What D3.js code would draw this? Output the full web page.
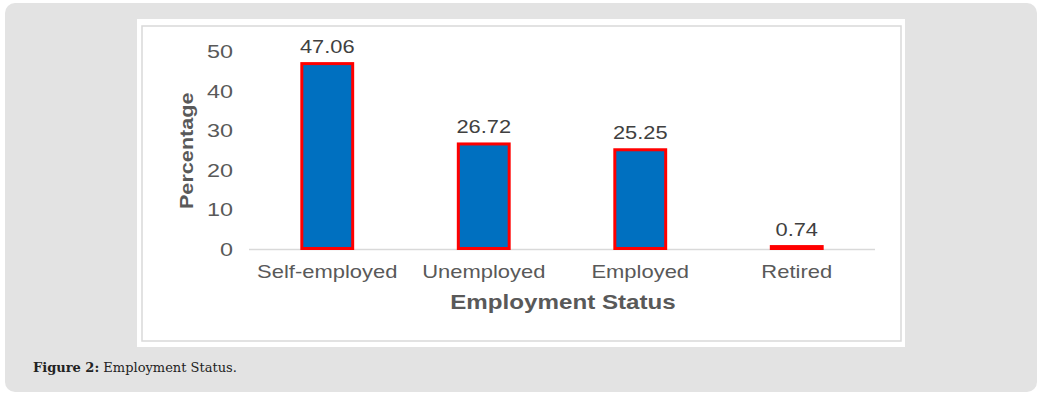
<!DOCTYPE html>
<html>
<head>
<meta charset="utf-8">
<script src="https://cdn.jsdelivr.net/npm/d3@7"></script>
<style>
  html, body { margin: 0; padding: 0; background: #fff; }
  svg { display: block; }
</style>
</head>
<body>
<div id="container"></div>
<script>
// Chart data
const categories = ["Self-employed", "Unemployed", "Employed", "Retired"];
const percentages = [47.06, 26.72, 25.25, 0.74];
const yTicks = [0, 10, 20, 30, 40, 50];

const width = 1040;
const height = 396;

// plot area inside the figure image
const plotLeft = 249;
const plotRight = 875;
const plotTop = 52;
const plotBottom = 249.5;

// the source image is a little stretched sideways
const stretch = 1.22;
const sans = "Liberation Sans, Arial, sans-serif";

const svg = d3.create("svg")
    .attr("width", width)
    .attr("height", height)
    .attr("viewBox", [0, 0, width, height]);

// grey figure panel
svg.append("rect")
    .attr("x", 5).attr("y", 3)
    .attr("width", 1032).attr("height", 389)
    .attr("rx", 10)
    .attr("fill", "#e3e3e3");

// white image box + thin inner frame
svg.append("rect")
    .attr("x", 137).attr("y", 19)
    .attr("width", 768).attr("height", 328)
    .attr("fill", "#fff");
svg.append("rect")
    .attr("x", 142).attr("y", 26)
    .attr("width", 759).attr("height", 315)
    .attr("fill", "none")
    .attr("stroke", "#d9d9d9")
    .attr("stroke-width", 1.5);

const x = d3.scaleBand()
    .domain(categories)
    .range([plotLeft, plotRight])
    .paddingInner(0.675)
    .paddingOuter(0.3375);

const y = d3.scaleLinear()
    .domain([0, 50])
    .range([plotBottom, plotTop]);

const data = categories.map((c, i) => ({ category: c, value: percentages[i] }));

// y axis labels (no line, no ticks)
svg.append("g")
    .attr("transform", `translate(${plotLeft - 16},0)`)
    .call(d3.axisLeft(y).tickValues(yTicks).tickSize(0).tickPadding(0))
    .call(g => g.select(".domain").remove())
    .selectAll("text")
    .attr("fill", "#595959")
    .attr("transform", "scale(1.3,1)")
    .style("font-family", sans)
    .style("font-size", "18px");

// baseline
svg.append("line")
    .attr("x1", plotLeft).attr("x2", plotRight)
    .attr("y1", y(0)).attr("y2", y(0))
    .attr("stroke", "#d9d9d9")
    .attr("stroke-width", 1.5);

// bars
svg.append("g")
    .selectAll("rect")
    .data(data)
    .join("rect")
    .attr("x", d => x(d.category))
    .attr("y", d => y(d.value))
    .attr("width", x.bandwidth())
    .attr("height", d => y(0) - y(d.value) - 1)
    .attr("fill", "#0070c0")
    .attr("stroke", "#ff0000")
    .attr("stroke-width", 3);

// value labels
svg.append("g")
    .selectAll("text")
    .data(data)
    .join("text")
    .attr("transform", d => `translate(${x(d.category) + x.bandwidth() / 2},${y(d.value) - 11}) scale(1.18,1)`)
    .attr("text-anchor", "middle")
    .attr("fill", "#404040")
    .style("font-family", sans)
    .style("font-size", "18.5px")
    .text(d => d.value.toFixed(2));

// x axis category labels
svg.append("g")
    .attr("transform", `translate(0,${plotBottom})`)
    .call(d3.axisBottom(x).tickSize(0).tickPadding(16))
    .call(g => g.select(".domain").remove())
    .selectAll("text")
    .attr("fill", "#595959")
    .attr("transform", `scale(${stretch},1)`)
    .style("font-family", sans)
    .style("font-size", "18px");

// axis titles
svg.append("text")
    .attr("transform", `translate(${(plotLeft + plotRight) / 2 + 1},309) scale(1.24,1)`)
    .attr("text-anchor", "middle")
    .attr("fill", "#595959")
    .style("font-family", sans)
    .style("font-size", "19.5px")
    .style("font-weight", "bold")
    .text("Employment Status");

svg.append("text")
    .attr("transform", `translate(193,${(plotTop + plotBottom) / 2}) rotate(-90) scale(1.17,1)`)
    .attr("text-anchor", "middle")
    .attr("fill", "#595959")
    .style("font-family", sans)
    .style("font-size", "18.5px")
    .style("font-weight", "bold")
    .text("Percentage");

// caption
const caption = svg.append("text")
    .attr("x", 33)
    .attr("y", 372)
    .attr("fill", "#222")
    .style("font-family", "DejaVu Serif, Georgia, serif")
    .style("font-size", "13px");
caption.append("tspan").style("font-weight", "bold").text("Figure 2:");
caption.append("tspan").text(" Employment Status.");

d3.select("#container").append(() => svg.node());
</script>
</body>
</html>
